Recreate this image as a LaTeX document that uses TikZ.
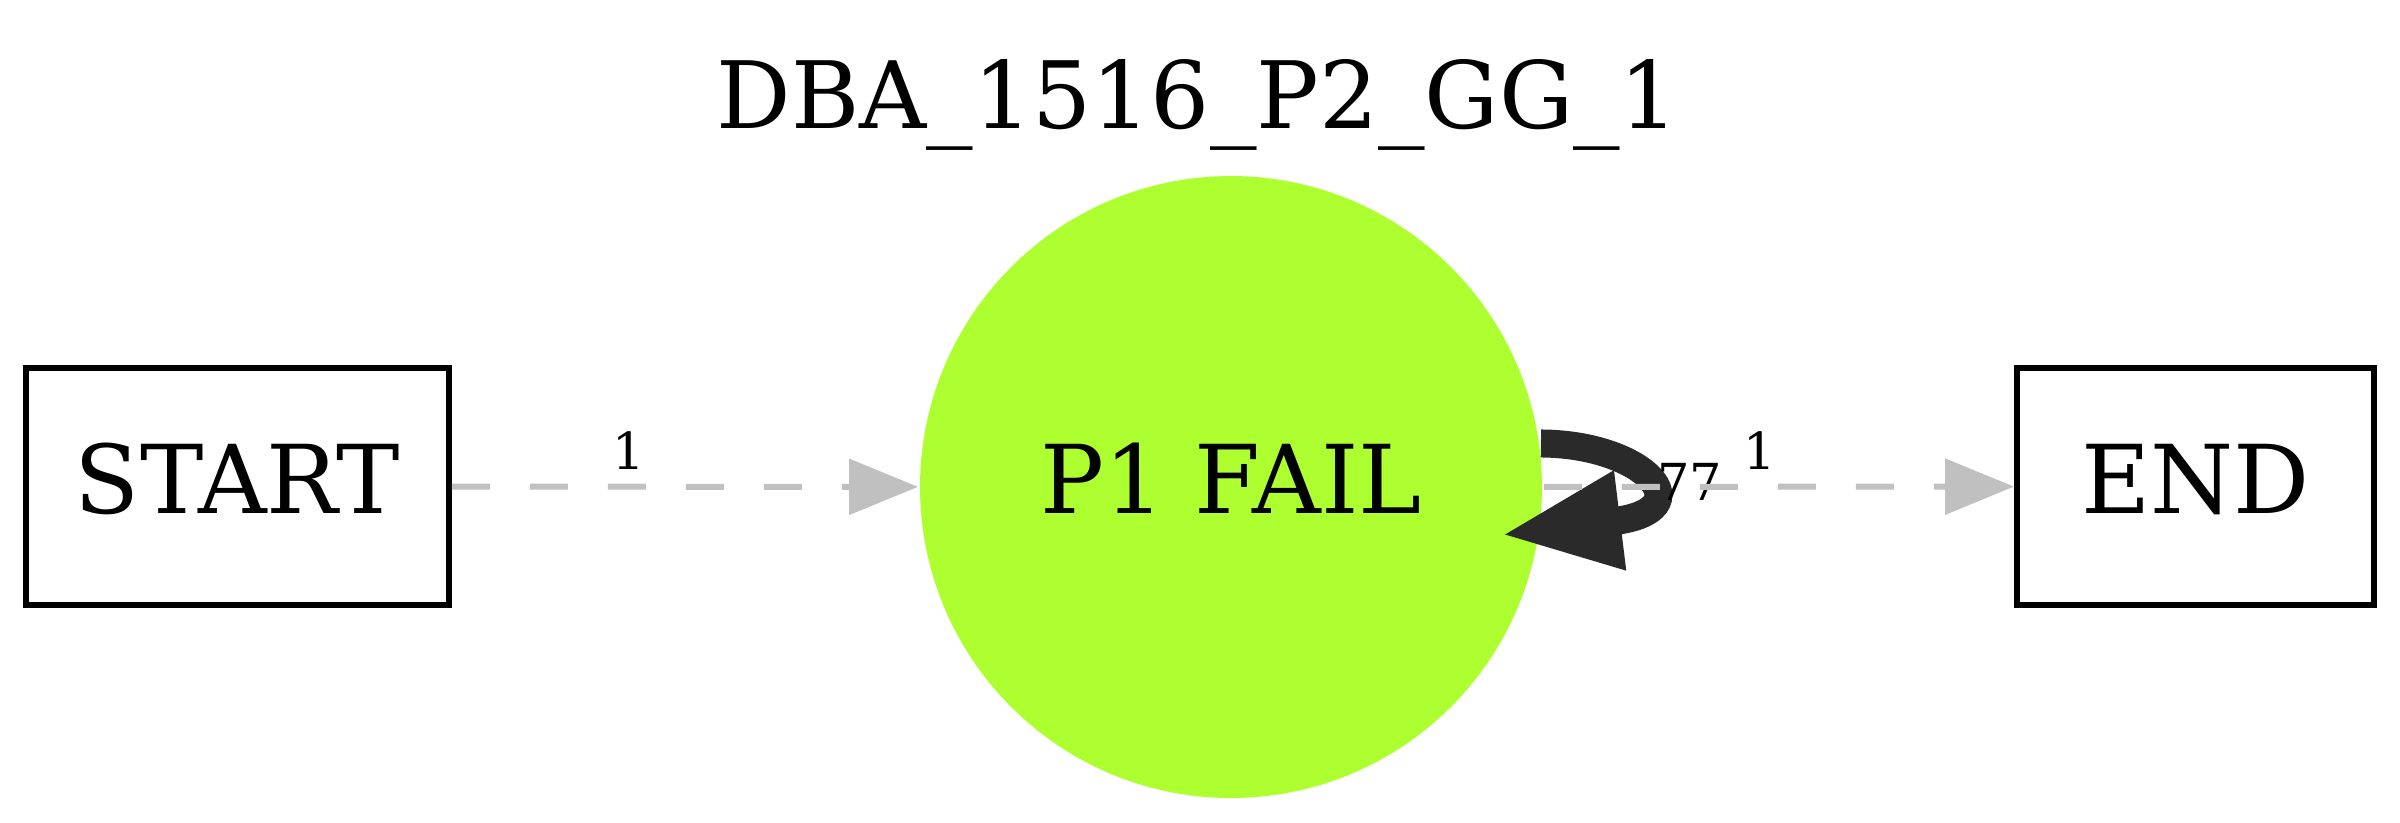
\documentclass[tikz,border=0pt]{standalone}
\usepackage{fontspec}
\setmainfont{DejaVu Serif}
\usetikzlibrary{arrows.meta}
\definecolor{failgreen}{HTML}{ADFF2F}
\definecolor{flowgray}{HTML}{C0C0C0}
\definecolor{loopgray}{HTML}{2A2A2A}

\begin{document}
\begin{tikzpicture}[x=0.1pt,y=-0.1pt,
    every node/.style={inner sep=0pt},
    statebox/.style={draw,line width=0.6pt,minimum height=23.7pt,text height=6.9pt,text depth=1.6pt,font=\fontsize{9.5}{11}\selectfont},
    flow/.style={flowgray,line width=0.6pt,dash pattern=on 3.8pt off 4pt,-{Triangle[length=6.9pt,width=5.5pt]}},
    count/.style={anchor=base,text=black,font=\fontsize{5.1}{6}\selectfont}]
    \useasboundingbox (0,0) rectangle (2400,822);
    \node[anchor=base,font=\fontsize{9.3}{11}\selectfont] (title) at (1198,128) {DBA\_1516\_P2\_GG\_1};

    \node[statebox,minimum width=42.3pt] (start) at (237.5,486.5) {START};
    \node[circle,fill=failgreen,minimum size=62.2pt,text height=6.9pt,text depth=1.6pt,font=\fontsize{9.5}{11}\selectfont] (fail) at (1231,487) {P1 FAIL};
    \node[statebox,minimum width=35.7pt] (end) at (2195.5,486.5) {END};
    \coordinate (looptip) at (1501,535);

    \draw[flow] (start) -- (fail) node[count,pos=0.38,yshift=1.7pt] (startcount) {1};
    \draw[loopgray,line width=2.8pt,-{Triangle[length=12pt,width=9.2pt]}] (fail.8) .. controls (1645,444) and (1705,510) .. (looptip);
    \node[count] (loopcount) at (1690,500) {77};
    \draw[flow] (fail) -- (end) node[count,pos=0.46,yshift=1.7pt] (endcount) {1};
\end{tikzpicture}
\end{document}
